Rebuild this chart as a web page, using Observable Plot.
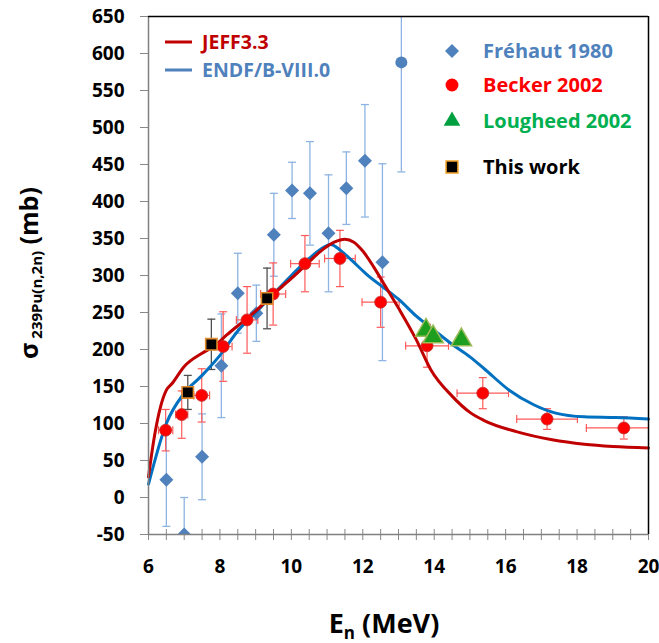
<!DOCTYPE html>
<html><head><meta charset="utf-8">
<script src="https://cdn.jsdelivr.net/npm/d3@7"></script>
<script src="https://cdn.jsdelivr.net/npm/@observablehq/plot@0.6"></script>
<style>html,body{margin:0;padding:0;background:#fff} svg{display:block}</style>
</head><body><div id="chart"></div>
<script>
// ---- tick labels ----
const xTicks = [6, 8, 10, 12, 14, 16, 18, 20];
const xMinorTicks = [6, 6.5, 7, 7.5, 8, 8.5, 9, 9.5, 10, 10.5, 11, 11.5, 12, 12.5, 13, 13.5, 14, 14.5, 15, 15.5, 16, 16.5, 17, 17.5, 18, 18.5, 19, 19.5, 20];
const yTicks = [-50, 0, 50, 100, 150, 200, 250, 300, 350, 400, 450, 500, 550, 600, 650];

// ---- JEFF3.3 evaluation ----
const jeffE = [6.0, 6.15, 6.34, 6.5, 6.66, 7.0, 7.5, 7.85, 8.2, 8.6, 9.0, 9.5, 10.0, 10.4, 10.8, 11.2, 11.5, 11.75, 12.0, 12.3, 12.6, 13.0, 13.5, 13.9, 14.5, 15.0, 15.4, 16.3, 17.3, 18.2, 19.0, 20.0];
const jeffSigma = [28, 78, 123, 145, 154, 177, 195, 205, 220, 236, 252, 275, 296, 314, 332, 345, 349, 345, 333, 312, 288, 256, 213, 173, 137, 115, 104, 89, 78, 72, 69, 67];

// ---- ENDF/B-VIII.0 evaluation ----
const endfE = [6.0, 6.5, 7.0, 7.5, 8.0, 8.5, 9.0, 9.5, 10.0, 10.5, 10.9, 11.1, 11.4, 11.7, 12.1, 12.6, 13.0, 13.5, 14.0, 14.5, 15.0, 15.4, 16.1, 16.8, 17.4, 18.2, 19.1, 20.0];
const endfSigma = [18, 100, 141, 165, 192, 225, 250, 275, 300, 323, 338, 342, 333, 320, 302, 283, 268, 245, 226, 207, 190, 174, 145, 125, 114, 109, 108, 106];

// ---- Fréhaut 1980 ----
const frehautE = [6.5, 7.0, 7.5, 8.04, 8.5, 9.02, 9.51, 10.02, 10.52, 11.04, 11.54, 12.06, 12.55];
const frehautSigma = [24, -50, 55, 178, 276, 249, 355, 415, 411, 357, 418, 455, 318];
const frehautErr = [63, 50, 58, 70, 54, 38, 56, 38, 70, 79, 49, 76, 133];
// single Fréhaut point drawn as a circle
const frehautCircE = [13.08];
const frehautCircSigma = [588];
const frehautCircErr = [148];

// ---- Becker 2002 ----
const beckerE = [6.48, 6.93, 7.49, 8.09, 8.76, 9.49, 10.38, 11.36, 12.5, 13.8, 15.36, 17.16, 19.31];
const beckerSigma = [91, 112, 138, 204, 240, 275, 316, 323, 264, 205, 141, 106, 94];
const beckerErr = [28, 32, 36, 47, 45, 42, 38, 38, 34, 29, 21, 14, 15];
const beckerEErr = [0.2, 0.17, 0.22, 0.25, 0.3, 0.35, 0.4, 0.43, 0.52, 0.6, 0.72, 0.85, 1.05];

// ---- Lougheed 2002 ----
const lougheedE = [13.77, 13.97, 14.76];
const lougheedSigma = [226, 217, 213];

// ---- This work ----
const thisE = [7.1, 7.76, 9.32];
const thisSigma = [142, 207, 269];
const thisErr = [23, 34, 41];

// tables
const jeff = jeffE.map((e, i) => ({e, s: jeffSigma[i]}));
const endf = endfE.map((e, i) => ({e, s: endfSigma[i]}));
const frehaut = frehautE.map((e, i) => ({e, s: frehautSigma[i], err: frehautErr[i]}));
const frehautC = frehautCircE.map((e, i) => ({e, s: frehautCircSigma[i], err: frehautCircErr[i]}));
const becker = beckerE.map((e, i) => ({e, s: beckerSigma[i], err: beckerErr[i], xerr: beckerEErr[i]}));
const lougheed = lougheedE.map((e, i) => ({e, s: lougheedSigma[i]}));
const thisWork = thisE.map((e, i) => ({e, s: thisSigma[i], err: thisErr[i]}));
const frehautAll = frehaut.concat(frehautC);

const capH = {draw(ctx, size) { const r = Math.sqrt(size / Math.PI); ctx.moveTo(-r, 0); ctx.lineTo(r, 0); }};
const capV = {draw(ctx, size) { const r = Math.sqrt(size / Math.PI); ctx.moveTo(0, -r); ctx.lineTo(0, r); }};

const FB = "#8db4e2", RB = "#ff5a5a", KB = "#505050";
const xMin = 6, yMin = -50;
const fmt = d => String(d);

const chart = Plot.plot({
  width: 659, height: 643,
  marginLeft: 148, marginRight: 11, marginTop: 16, marginBottom: 109,
  style: {fontFamily: "'Open Sans', sans-serif", background: "#fff", overflow: "visible"},
  x: {domain: [6, 20]},
  y: {domain: [-50, 650]},
  marks: [
    Plot.axisY(yTicks, {tickSize: 8, tickPadding: 16, tickFormat: fmt, stroke: "#888", fill: "#000", fontSize: 19, fontWeight: "bold", label: null}),
    Plot.axisX(xMinorTicks, {tickSize: 6, text: null, stroke: "#888", label: null}),
    Plot.ruleX(xMinorTicks, {y1: yMin, y2: yMin, insetTop: -5, stroke: "#888"}),
    Plot.axisX(xTicks, {tickSize: 0, tickPadding: 25, tickFormat: fmt, fill: "#000", fontSize: 19, fontWeight: "bold", label: null}),
    // Fréhaut error bars
    Plot.ruleX(frehautAll, {x: "e", y1: d => d.s - d.err, y2: d => d.s + d.err, stroke: FB, strokeWidth: 1.3, clip: true}),
    Plot.dot(frehautAll, {x: "e", y: d => d.s + d.err, symbol: capH, r: 4, stroke: FB, strokeWidth: 1.3, clip: true}),
    Plot.dot(frehautAll, {x: "e", y: d => d.s - d.err, symbol: capH, r: 4, stroke: FB, strokeWidth: 1.3, clip: true}),
    // Becker error bars
    Plot.ruleX(becker, {x: "e", y1: d => d.s - d.err, y2: d => d.s + d.err, stroke: RB, strokeWidth: 1.2, clip: true}),
    Plot.ruleY(becker, {y: "s", x1: d => d.e - d.xerr, x2: d => d.e + d.xerr, stroke: RB, strokeWidth: 1.2, clip: true}),
    Plot.dot(becker, {x: "e", y: d => d.s + d.err, symbol: capH, r: 4, stroke: RB, strokeWidth: 1.2, clip: true}),
    Plot.dot(becker, {x: "e", y: d => d.s - d.err, symbol: capH, r: 4, stroke: RB, strokeWidth: 1.2, clip: true}),
    Plot.dot(becker, {x: d => d.e - d.xerr, y: "s", symbol: capV, r: 4, stroke: RB, strokeWidth: 1.2, clip: true}),
    Plot.dot(becker, {x: d => d.e + d.xerr, y: "s", symbol: capV, r: 4, stroke: RB, strokeWidth: 1.2, clip: true}),
    // This work error bars
    Plot.ruleX(thisWork, {x: "e", y1: d => d.s - d.err, y2: d => d.s + d.err, stroke: KB, strokeWidth: 1.3}),
    Plot.dot(thisWork, {x: "e", y: d => d.s + d.err, symbol: capH, r: 4, stroke: KB, strokeWidth: 1.3}),
    Plot.dot(thisWork, {x: "e", y: d => d.s - d.err, symbol: capH, r: 4, stroke: KB, strokeWidth: 1.3}),
    // Fréhaut markers
    Plot.dot(frehaut, {x: "e", y: "s", symbol: "diamond2", r: 6.3, fill: "#4f81bd", clip: true}),
    Plot.dot(frehautC, {x: "e", y: "s", symbol: "circle", r: 6, fill: "#4f81bd"}),
    // evaluations
    Plot.line(endf, {x: "e", y: "s", stroke: "#0070c0", strokeWidth: 3, curve: "monotone-x"}),
    Plot.line(jeff, {x: "e", y: "s", stroke: "#c00000", strokeWidth: 3, curve: "monotone-x"}),
    // Becker markers
    Plot.dot(becker, {x: "e", y: "s", r: 6, fill: "#ff0000", stroke: "#c03030", strokeWidth: 0.8}),
    // Lougheed
    Plot.dot(lougheed, {x: "e", y: "s", symbol: "triangle", r: 7.6, fill: "#1e9e1e", stroke: "#9bbb59", strokeWidth: 1.5}),
    // This work
    Plot.dot(thisWork, {x: "e", y: "s", symbol: "square", r: 6.4, fill: "#000", stroke: "#e08a2a", strokeWidth: 1.6}),
    // frame
    Plot.ruleX([xMin], {stroke: "#808080", strokeWidth: 1.5}),
    Plot.ruleY([yMin], {stroke: "#808080", strokeWidth: 1.5}),
    Plot.ruleX([20], {stroke: "#000", strokeWidth: 1.5}),
    Plot.ruleY([650], {stroke: "#000", strokeWidth: 1.5})
  ]
});
document.getElementById("chart").appendChild(chart);

const svg = d3.select(chart);
const font = "'Open Sans', sans-serif";

// Y-axis title
const yt = svg.append("text").attr("transform", "translate(38,273) rotate(-90)")
  .attr("text-anchor", "middle").attr("font-family", font).attr("font-weight", "bold").attr("fill", "#000");
yt.append("tspan").attr("font-size", 25).text("σ");
yt.append("tspan").attr("font-size", 15).attr("dy", 4).text(" 239Pu(n,2n)");
yt.append("tspan").attr("font-size", 25).attr("dy", -4).text(" (mb)");

// X-axis title
const xt = svg.append("text").attr("x", 384).attr("y", 633)
  .attr("text-anchor", "middle").attr("font-family", font).attr("font-weight", "bold").attr("fill", "#000");
xt.append("tspan").attr("font-size", 27).text("E");
xt.append("tspan").attr("font-size", 17).attr("dy", 6).text("n");
xt.append("tspan").attr("font-size", 27).attr("dy", -6).text(" (MeV)");

// Left legend (evaluations)
const leftLegend = [
  {label: "JEFF3.3", color: "#c00000", text: "#c00000", y: 42},
  {label: "ENDF/B-VIII.0", color: "#4f81bd", text: "#4f81bd", y: 70}
];
for (const l of leftLegend) {
  svg.append("line").attr("x1", 165).attr("x2", 192).attr("y1", l.y).attr("y2", l.y)
    .attr("stroke", l.color).attr("stroke-width", 3);
  svg.append("text").attr("x", 202).attr("y", l.y).attr("dy", "0.36em").attr("text-anchor", "start")
    .attr("font-family", font).attr("font-weight", "bold").attr("font-size", 19.5)
    .attr("fill", l.text).text(l.label);
}

// Right legend (measurements)
const rightLegend = [
  {label: "Fréhaut 1980", sym: d3.symbolDiamond2, size: 125, fill: "#4f81bd", stroke: "none", text: "#4f81bd", y: 51},
  {label: "Becker 2002", sym: d3.symbolCircle, size: 130, fill: "#ff0000", stroke: "none", text: "#ff0000", y: 85},
  {label: "Lougheed 2002", sym: d3.symbolTriangle, size: 120, fill: "#00a040", stroke: "none", text: "#00b050", y: 121},
  {label: "This work", sym: d3.symbolSquare, size: 140, fill: "#000", stroke: "#f0a020", text: "#000", y: 167}
];
for (const l of rightLegend) {
  svg.append("path").attr("d", d3.symbol(l.sym, l.size)())
    .attr("transform", `translate(452,${l.y})`)
    .attr("fill", l.fill).attr("stroke", l.stroke).attr("stroke-width", 1.5);
  svg.append("text").attr("x", 483).attr("y", l.y).attr("dy", "0.36em").attr("text-anchor", "start")
    .attr("font-family", font).attr("font-weight", "bold").attr("font-size", 20)
    .attr("fill", l.text).text(l.label);
}
</script>
</body></html>
